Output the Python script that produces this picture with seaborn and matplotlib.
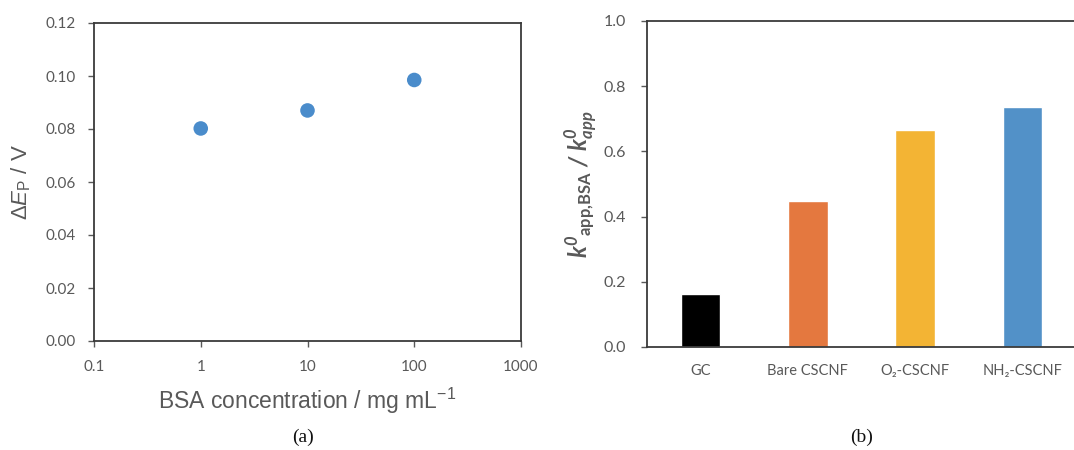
import numpy as np
import pandas as pd
import seaborn as sns
import matplotlib.pyplot as plt
from matplotlib.ticker import FixedLocator, NullLocator

# --- data ---
bsa_conc = [1, 10, 100]            # mg/mL
delta_ep = [0.0802, 0.0870, 0.0985]  # V

electrodes = ["GC", "Bare CSCNF", "O\u2082-CSCNF", "NH\u2082-CSCNF"]
k_ratio = [0.162, 0.449, 0.665, 0.737]
bar_colors = ["#000000", "#E4783F", "#F3B434", "#5291C8"]

x_ticks = [0.1, 1, 10, 100, 1000]
x_ticklabels = ["0.1", "1", "10", "100", "1000"]
y1_ticks = [0.00, 0.02, 0.04, 0.06, 0.08, 0.10, 0.12]
y2_ticks = [0.0, 0.2, 0.4, 0.6, 0.8, 1.0]

# --- style ---
sns.set_theme(style="ticks")
plt.rcParams['font.family'] = ['Lato', 'DejaVu Sans']
plt.rcParams['mathtext.fontset'] = 'custom'
plt.rcParams['mathtext.rm'] = 'Liberation Sans'
plt.rcParams['mathtext.it'] = 'Liberation Sans:italic'
plt.rcParams['mathtext.bf'] = 'Lato:bold'
plt.rcParams['mathtext.bfit'] = 'Lato:bold:italic'

gray = "#595959"
spine_col = "#3a3a3a"

fig = plt.figure(figsize=(10.74, 4.5), dpi=100)
ax1 = fig.add_axes([94 / 1074, 1 - 341 / 450, (521 - 94) / 1074, (341 - 23) / 450])
ax2 = fig.add_axes([647 / 1074, 1 - 347 / 450, (1090 - 647) / 1074, (347 - 21) / 450])

# (a) peak separation vs BSA concentration
df_a = pd.DataFrame({"conc": bsa_conc, "dEp": delta_ep})
sns.scatterplot(data=df_a, x="conc", y="dEp", ax=ax1, s=110, color="#4A8CCB",
                edgecolor="none", zorder=3)
ax1.set_xscale("log")
ax1.set_xlim(0.1, 1000)
ax1.set_ylim(0, 0.12)
ax1.xaxis.set_major_locator(FixedLocator(x_ticks))
ax1.xaxis.set_minor_locator(NullLocator())
ax1.set_xticks(x_ticks)
ax1.set_xticklabels(x_ticklabels)
ax1.set_yticks(y1_ticks)
ax1.set_yticklabels([f"{v:.2f}" for v in y1_ticks])
ax1.set_xlabel("BSA concentration / mg mL$^{\u22121}$", fontsize=16.5,
               family="Liberation Sans", color=gray, labelpad=8)
ax1.set_ylabel(r"$\Delta\mathit{E}_{\mathrm{P}}$ / V", fontsize=16,
               family="Liberation Sans", color=gray, labelpad=9)
ax1.tick_params(axis="y", labelsize=11, colors=gray, length=4, width=1,
                direction="out", pad=9)
ax1.tick_params(axis="x", labelsize=11, colors=gray, length=4, width=1,
                direction="out", pad=10)
for sp in ax1.spines.values():
    sp.set_visible(True)
    sp.set_color(spine_col)
    sp.set_linewidth(1.3)

# (b) normalised rate constants
df_b = pd.DataFrame({"electrode": electrodes, "ratio": k_ratio})
sns.barplot(data=df_b, x="electrode", y="ratio", hue="electrode",
            palette=bar_colors, width=0.37, legend=False, ax=ax2, saturation=1)
ax2.set_xlim(-0.5, 3.5 + 0.13)
ax2.set_ylim(0, 1.0)
ax2.set_yticks(y2_ticks)
ax2.set_yticklabels([f"{v:.1f}" for v in y2_ticks])
ax2.set_xlabel("")
ax2.set_ylabel(r"$\mathbfit{k^{0}}_{\mathbf{app{,}BSA}}$ $\mathbfit{/}$ $\mathbfit{k^{0}_{app}}$",
               fontsize=17, color=gray, labelpad=3)
ax2.tick_params(axis="y", labelsize=11.5, colors=gray, length=4, width=1, pad=11)
ax2.tick_params(axis="x", labelsize=10.5, colors=gray, length=0, pad=12)
for sp in ax2.spines.values():
    sp.set_visible(True)
    sp.set_color(spine_col)
    sp.set_linewidth(1.3)

# panel captions
fig.text(303 / 1074, 1 - 437 / 450, "(a)", ha="center", va="center",
         family="Liberation Serif", fontsize=14, color="#111111")
fig.text(862 / 1074, 1 - 437 / 450, "(b)", ha="center", va="center",
         family="Liberation Serif", fontsize=14, color="#111111")

fig.savefig("out.png", dpi=100, facecolor="white")
